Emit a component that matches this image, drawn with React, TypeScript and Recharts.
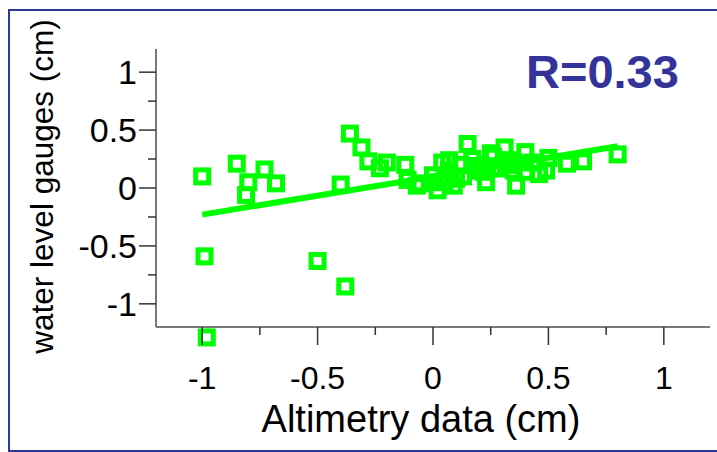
import { ScatterChart, Scatter, XAxis, YAxis, Label } from "recharts";

// altimetry (x) vs water level gauges (y), in cm
const altimetry = [
  -1.0, -0.99, -0.98, -0.85, -0.8, -0.81, -0.73, -0.68, -0.5, -0.4, -0.38,
  -0.36, -0.31, -0.28, -0.23, -0.2, -0.12, -0.11, -0.06, -0.07, 0.02, 0.0,
  0.01, 0.04, 0.05, 0.07, 0.07, 0.09, 0.1, 0.12, 0.13, 0.15, 0.17, 0.19,
  0.19, 0.22, 0.23, 0.25, 0.26, 0.26, 0.29, 0.31, 0.33, 0.33, 0.35, 0.35,
  0.36, 0.4, 0.4, 0.43, 0.46, 0.49, 0.5, 0.58, 0.65, 0.8,
];
const gauges = [
  0.1, -0.59, -1.29, 0.21, 0.05, -0.06, 0.16, 0.04, -0.63, 0.03, -0.85,
  0.47, 0.35, 0.23, 0.17, 0.22, 0.2, 0.07, 0.04, 0.02, -0.02, 0.11,
  0.05, 0.22, 0.06, 0.24, 0.15, 0.02, 0.08, 0.2, 0.1, 0.38, 0.25, 0.19,
  0.15, 0.14, 0.05, 0.3, 0.27, 0.17, 0.17, 0.35, 0.24, 0.2, 0.15, 0.22,
  0.02, 0.31, 0.14, 0.22, 0.12, 0.15, 0.26, 0.21, 0.23, 0.29,
];

// regression line end points
const fitX = [-1.0, 0.8];
const fitY = [-0.23, 0.36];

const axisTicks = [-1, -0.75, -0.5, -0.25, 0, 0.25, 0.5, 0.75, 1];
const majorTicks = [-1, -0.5, 0, 0.5, 1];
const correlationText = "R=0.33";

const points = altimetry.map((x, i) => ({ x, y: gauges[i] }));
const fitLine = fitX.map((x, i) => ({ x, y: fitY[i] }));

const GREEN = "#00ff00";
const FONT = "'Liberation Sans', Arial, sans-serif";

function HollowSquare(props: any) {
  const { cx, cy } = props;
  return (
    <rect
      x={cx - 6.5}
      y={cy - 6.5}
      width={13}
      height={13}
      fill="none"
      stroke={GREEN}
      strokeWidth={5}
    />
  );
}

function XTick(props: any) {
  const { x, y, payload } = props;
  const major = majorTicks.includes(payload.value);
  return (
    <g>
      <line x1={x} x2={x} y1={y} y2={y + (major ? 18 : 8)} stroke="#333" strokeWidth={1.5} />
      {major && (
        <text x={x} y={y + 62} textAnchor="middle" fontSize={32} fontFamily={FONT} fill="#000">
          {String(payload.value)}
        </text>
      )}
    </g>
  );
}

function YTick(props: any) {
  const { x, y, payload } = props;
  const major = majorTicks.includes(payload.value);
  return (
    <g>
      <line x1={x - (major ? 17 : 8)} x2={x} y1={y} y2={y} stroke="#333" strokeWidth={1.5} />
      {major && (
        <text x={x - 19} y={y} dy="0.36em" textAnchor="end" fontSize={34} fontFamily={FONT} fill="#000">
          {String(payload.value)}
        </text>
      )}
    </g>
  );
}

export default function App() {
  return (
    <div
      style={{
        position: "absolute",
        left: 0,
        top: 0,
        width: 717,
        height: 452,
        overflow: "hidden",
        background: "#fff",
      }}
    >
      {/* the -1.29 point sits below the axis, don't clip it */}
      <style>{`.recharts-wrapper g[clip-path]{clip-path:none !important}`}</style>

      <ScatterChart
        width={717}
        height={452}
        margin={{ top: 49, right: 7, bottom: 0, left: 0 }}
      >
        <XAxis
          type="number"
          dataKey="x"
          domain={[-1.2, 1.2]}
          ticks={axisTicks}
          interval={0}
          tickLine={false}
          tickSize={0}
          tickMargin={0}
          tick={<XTick />}
          axisLine={{ stroke: "#777", strokeWidth: 2 }}
          height={125}
        >
          <Label
            content={(p: any) => {
              const vb = p.viewBox;
              return (
                <text
                  x={vb.x + vb.width / 2 - 12}
                  y={vb.y + 105}
                  textAnchor="middle"
                  fontSize={38}
                  fontFamily={FONT}
                  fill="#000"
                >
                  Altimetry data (cm)
                </text>
              );
            }}
          />
        </XAxis>
        <YAxis
          type="number"
          dataKey="y"
          domain={[-1.2, 1.2]}
          allowDataOverflow
          ticks={axisTicks}
          interval={0}
          tickLine={false}
          tickSize={0}
          tickMargin={0}
          tick={<YTick />}
          axisLine={{ stroke: "#777", strokeWidth: 2 }}
          width={156}
        >
          <Label
            content={(p: any) => {
              const vb = p.viewBox;
              const cx = vb.x + 53;
              const cy = vb.y + vb.height / 2 - 1.5;
              return (
                <text
                  x={cx}
                  y={cy}
                  transform={`rotate(-90 ${cx} ${cy})`}
                  textAnchor="middle"
                  fontSize={31.5}
                  fontFamily={FONT}
                  fill="#000"
                >
                  water level gauges (cm)
                </text>
              );
            }}
          />
        </YAxis>

        <Scatter
          data={fitLine}
          line={{ stroke: GREEN, strokeWidth: 6 }}
          shape={() => <g />}
          isAnimationActive={false}
        />
        <Scatter data={points} shape={<HollowSquare />} isAnimationActive={false} />
      </ScatterChart>

      <svg
        width={717}
        height={452}
        style={{ position: "absolute", left: 0, top: 0, pointerEvents: "none" }}
      >
        <text x={526} y={88} fontSize={47} fontWeight="bold" fontFamily={FONT} fill="#333399">
          {correlationText}
        </text>
      </svg>

      <div
        style={{
          position: "absolute",
          left: 8,
          top: 9,
          width: 740,
          height: 443,
          border: "2px solid #2a3a9a",
          boxSizing: "border-box",
        }}
      />
    </div>
  );
}
